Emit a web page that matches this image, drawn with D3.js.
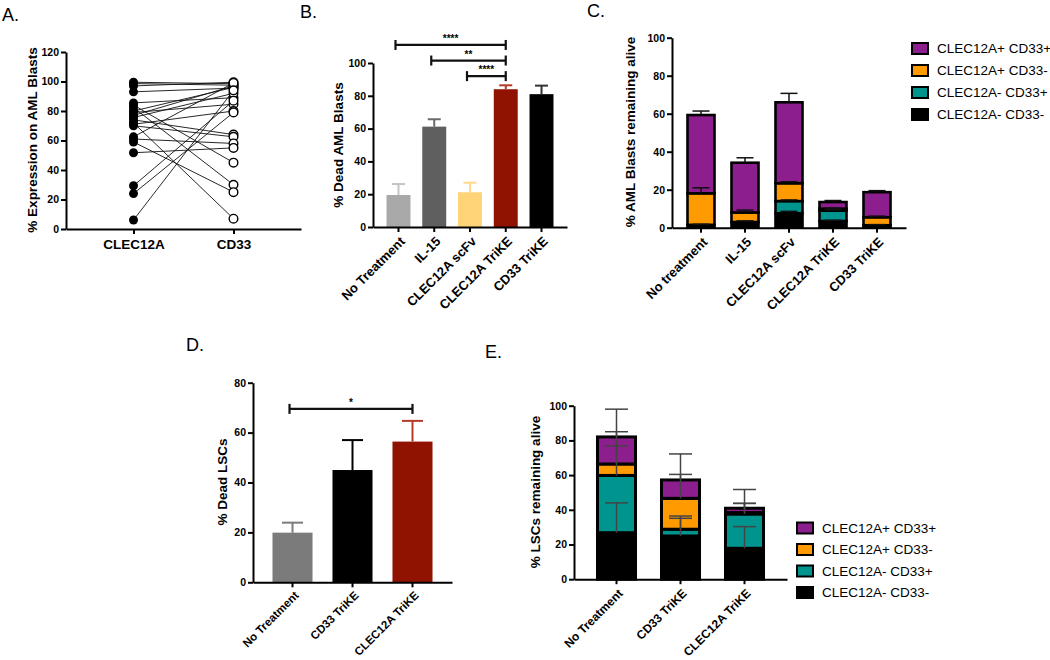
<!DOCTYPE html>
<html><head><meta charset="utf-8">
<script src="https://cdn.jsdelivr.net/npm/d3@7"></script>
<style>body{margin:0;background:#fff}svg{display:block;font-family:"Liberation Sans",Arial,sans-serif}</style>
</head><body><script>
// ---------- Panel A data ----------
const aCats = ["CLEC12A", "CD33"];
const aTicks = [0, 20, 40, 60, 80, 100, 120];
const clec12aExpr = [99.5, 98.6, 97, 93, 85.5, 84, 82.3, 80, 79, 77, 75.6, 74, 72, 71, 70, 62.5, 61, 59, 51.7, 29.3, 24, 6.1];
const cd33Expr    = [98.5, 97.5, 99.5, 95.5, 89, 45, 30, 96, 84.6, 97, 92, 64, 7, 80, 62.5, 99, 58, 25, 55, 87, 79, 94];

// ---------- Panel B data ----------
const bCats = ["No Treatment", "IL-15", "CLEC12A scFv", "CLEC12A TriKE", "CD33 TriKE"];
const bMean = [19.5, 61.2, 21.2, 84, 81];
const bErrTop = [26.2, 65.7, 27, 86.4, 86.2];
const bColors = ["#a9a9a9", "#5f5f5f", "#ffd479", "#8f1300", "#000000"];
const bErrColors = ["#c4c4c4", "#6a6a6a", "#ffd98a", "#b43a2a", "#333333"];
const bTicks = [0, 20, 40, 60, 80, 100];
const bSigFrom = ["No Treatment", "IL-15", "CLEC12A scFv"];
const bSigTo = ["CLEC12A TriKE", "CLEC12A TriKE", "CLEC12A TriKE"];
const bSigLevel = [111, 101.5, 92];
const bSigLabel = ["****", "**", "****"];

// ---------- Panel C data ----------
const cCats = ["No treatment", "IL-15", "CLEC12A scFv", "CLEC12A TriKE", "CD33 TriKE"];
const cNegNeg = [1.5, 3, 7.6, 3.5, 1.3];      // CLEC12A- CD33-
const cNegPos = [0, 0, 6.4, 5.5, 0];          // CLEC12A- CD33+
const cPosNeg = [16.6, 5, 9.4, 1, 4.2];       // CLEC12A+ CD33-
const cPosPos = [41.2, 26.2, 42.6, 3.5, 13.2];// CLEC12A+ CD33+
const cErrNegNeg = [0.3, 0.6, 1, 0.4, 0.3];
const cErrNegPos = [0, 0, 0.6, 0.4, 0];
const cErrPosNeg = [2.9, 1.3, 0.8, 0.3, 0.6];
const cErrPosPos = [2.1, 2.6, 4.7, 0.8, 0.8];
const cTicks = [0, 20, 40, 60, 80, 100];

// ---------- Panel D data ----------
const dCats = ["No Treatment", "CD33 TriKE", "CLEC12A TriKE"];
const dMean = [19.9, 45, 56.4];
const dErrTop = [23.9, 57, 64.7];
const dColors = ["#7b7b7b", "#000000", "#8f1300"];
const dErrColors = ["#7b7b7b", "#000000", "#b43a2a"];
const dTicks = [0, 20, 40, 60, 80];
const dSigFrom = ["No Treatment"], dSigTo = ["CLEC12A TriKE"], dSigLevel = [69.5], dSigLabel = ["*"];

// ---------- Panel E data ----------
const eCats = ["No Treatment", "CD33 TriKE", "CLEC12A TriKE"];
const eNegNeg = [26.8, 24.9, 17.8];
const eNegPos = [33, 3.9, 19.8];
const ePosNeg = [6.6, 17.8, 0.8];
const ePosPos = [15.6, 10.6, 2.5];
const eErrNegNeg = [17.2, 10.2, 12.5];
const eErrNegPos = [17, 7.6, 6.1];
const eErrPosNeg = [18.6, 13.8, 5.3];
const eErrPosPos = [16, 15, 10.8];
const eTicks = [0, 20, 40, 60, 80, 100];

const legendLabels = ["CLEC12A+ CD33+", "CLEC12A+ CD33-", "CLEC12A- CD33+", "CLEC12A- CD33-"];
const keys = ["negneg", "negpos", "posneg", "pospos"];
const segColors = {pospos: "#8c1e8e", posneg: "#ff9a00", negpos: "#00948f", negneg: "#000000"};
const legendKeys = ["pospos", "posneg", "negpos", "negneg"];

const FONT = '"Liberation Sans", Arial, sans-serif';
const svg = d3.select("body").append("svg").attr("width", 1050).attr("height", 660);

function styleAxis(g, fs) {
  g.attr("font-family", FONT);
  g.select(".domain").attr("stroke", "#000").attr("stroke-width", 2);
  g.selectAll(".tick line").attr("stroke", "#000").attr("stroke-width", 2);
  g.selectAll(".tick text").attr("font-size", fs).attr("font-weight", "bold").attr("fill", "#000");
}
function yAxis(scale, ticks, x) {
  const g = svg.append("g").attr("transform", `translate(${x},0)`)
    .call(d3.axisLeft(scale).tickValues(ticks).tickSize(5).tickSizeOuter(0).tickPadding(2));
  styleAxis(g, 10.5);
  return g;
}
function xAxis(scale, y, rotate, fs, tx, ty) {
  const g = svg.append("g").attr("transform", `translate(0,${y})`)
    .call(d3.axisBottom(scale).tickSize(5).tickSizeOuter(0));
  styleAxis(g, fs);
  if (rotate) {
    g.selectAll(".tick text").attr("x", 0).attr("y", 0).attr("dy", "0.35em")
      .attr("text-anchor", "end").attr("transform", `translate(${tx},${ty}) rotate(-45)`);
  }
  return g;
}
function yTitle(text, x, y) {
  svg.append("text").attr("transform", `translate(${x},${y}) rotate(-90)`)
    .attr("text-anchor", "middle").attr("dy", "0.35em").attr("font-family", FONT)
    .attr("font-weight", "bold").attr("font-size", 13.5).text(text);
}
function panelLabel(t, x, y) {
  svg.append("text").attr("x", x).attr("y", y).attr("font-family", FONT)
    .attr("font-size", 18).text(t);
}
function brackets(x, y, from, to, level, label) {
  from.forEach((f, i) => {
    const x1 = x(f) + x.bandwidth() / 2 - 3, x2 = x(to[i]) + x.bandwidth() / 2, yy = y(level[i]);
    const g = svg.append("g").attr("stroke", "#111").attr("stroke-width", 2.2);
    g.append("line").attr("x1", x1).attr("x2", x2).attr("y1", yy).attr("y2", yy);
    g.append("line").attr("x1", x1).attr("x2", x1).attr("y1", yy - 5).attr("y2", yy + 5);
    g.append("line").attr("x1", x2).attr("x2", x2).attr("y1", yy - 5).attr("y2", yy + 5);
    svg.append("text").attr("x", (x1 + x2) / 2).attr("y", yy - 3).attr("text-anchor", "middle")
      .attr("font-family", FONT).attr("font-size", 10).attr("font-weight", "bold").text(label[i]);
  });
}
function errBar(xc, yTop, yCap, w, color, sw) {
  const g = svg.append("g").attr("stroke", color).attr("stroke-width", sw);
  g.append("line").attr("x1", xc).attr("x2", xc).attr("y1", yTop).attr("y2", yCap);
  g.append("line").attr("x1", xc - w / 2).attr("x2", xc + w / 2).attr("y1", yCap).attr("y2", yCap);
}

// ================= Panel A =================
panelLabel("A.", 2, 21);
const xA = d3.scalePoint().domain(aCats).range([66, 301]).padding(0.675);
const yA = d3.scaleLinear().domain([0, 120]).range([229, 52]);
clec12aExpr.forEach((v, i) => {
  svg.append("line").attr("x1", xA("CLEC12A")).attr("y1", yA(v))
    .attr("x2", xA("CD33")).attr("y2", yA(cd33Expr[i])).attr("stroke", "#111").attr("stroke-width", 0.9);
});
svg.append("g").selectAll("circle").data(clec12aExpr).join("circle")
  .attr("cx", xA("CLEC12A")).attr("cy", d => yA(d)).attr("r", 4.5).attr("fill", "#000");
svg.append("g").selectAll("circle").data(cd33Expr).join("circle")
  .attr("cx", xA("CD33")).attr("cy", d => yA(d)).attr("r", 4.3).attr("fill", "#fff")
  .attr("stroke", "#000").attr("stroke-width", 1.4);
yAxis(yA, aTicks, 66);
{
  const g = svg.append("g").attr("transform", "translate(0,229)")
    .call(d3.axisBottom(xA).tickSize(5).tickSizeOuter(0).tickPadding(5));
  styleAxis(g, 13.5);
}
yTitle("% Expression on AML Blasts", 32, 140);

// ================= Panel B =================
panelLabel("B.", 300, 18);
const xB = d3.scaleBand().domain(bCats).range([373, 567]).paddingInner(0.33).paddingOuter(0.378);
const yB = d3.scaleLinear().domain([0, 100]).range([227, 63]);
bCats.forEach((c, i) => {
  svg.append("rect").attr("x", xB(c)).attr("y", yB(bMean[i])).attr("width", xB.bandwidth())
    .attr("height", yB(0) - yB(bMean[i])).attr("fill", bColors[i]);
  errBar(xB(c) + xB.bandwidth() / 2, yB(bMean[i]), yB(bErrTop[i]), 13, bErrColors[i], 2);
});
yAxis(yB, bTicks, 373);
xAxis(xB, 227, true, 13, 4, 12);
yTitle("% Dead AML Blasts", 338, 145);
brackets(xB, yB, bSigFrom, bSigTo, bSigLevel, bSigLabel);

// ================= stacked helper =================
function stacked(cats, layers, errs, x, y, sw, errW, errColor, errSw) {
  const rows = cats.map((c, i) => {
    const r = {cat: c};
    keys.forEach((k, j) => { r[k] = layers[j][i]; });
    return r;
  });
  const series = d3.stack().keys(keys)(rows);
  series.forEach(s => {
    s.forEach(d => {
      if (d[1] - d[0] <= 0) return;
      svg.append("rect").attr("x", x(d.data.cat)).attr("y", y(d[1])).attr("width", x.bandwidth())
        .attr("height", y(d[0]) - y(d[1])).attr("fill", segColors[s.key])
        .attr("stroke", "#000").attr("stroke-width", sw);
    });
  });
  series.forEach((s, j) => {
    s.forEach((d, i) => {
      const e = errs[j][i];
      if (e <= 0 || d[1] - d[0] <= 0) return;
      errBar(x(d.data.cat) + x.bandwidth() / 2, y(d[1]), y(d[1] + e), errW, errColor, errSw);
    });
  });
}
function legend(x0, y0, dy) {
  legendKeys.forEach((k, i) => {
    svg.append("rect").attr("x", x0).attr("y", y0 + i * dy - 5.5).attr("width", 16).attr("height", 11)
      .attr("fill", segColors[k]).attr("stroke", "#000").attr("stroke-width", 2);
    svg.append("text").attr("x", x0 + 25).attr("y", y0 + i * dy).attr("dy", "0.35em")
      .attr("font-family", FONT).attr("font-size", 13.5).text(legendLabels[i]);
  });
}

// ================= Panel C =================
panelLabel("C.", 587, 17);
const xC = d3.scaleBand().domain(cCats).range([672, 906]).paddingInner(0.386).paddingOuter(0.352);
const yC = d3.scaleLinear().domain([0, 100]).range([227.7, 37.7]);
stacked(cCats, [cNegNeg, cNegPos, cPosNeg, cPosPos], [cErrNegNeg, cErrNegPos, cErrPosNeg, cErrPosPos],
  xC, yC, 2.6, 17, "#111", 1.5);
yAxis(yC, cTicks, 672);
xAxis(xC, 227.7, true, 13, 4, 12);
yTitle("% AML Blasts remaining alive", 630, 132);
legend(912, 48.5, 22);

// ================= Panel D =================
panelLabel("D.", 186, 351);
const xD = d3.scaleBand().domain(dCats).range([253, 452]).paddingInner(0.333).paddingOuter(0.325);
const yD = d3.scaleLinear().domain([0, 80]).range([582.3, 382.7]);
dCats.forEach((c, i) => {
  svg.append("rect").attr("x", xD(c)).attr("y", yD(dMean[i])).attr("width", xD.bandwidth())
    .attr("height", yD(0) - yD(dMean[i])).attr("fill", dColors[i]);
  errBar(xD(c) + xD.bandwidth() / 2, yD(dMean[i]), yD(dErrTop[i]), 21, dErrColors[i], 2);
});
yAxis(yD, dTicks, 253);
xAxis(xD, 582.3, true, 11.5, 4, 11);
yTitle("% Dead LSCs", 222, 482);
brackets(xD, yD, dSigFrom, dSigTo, dSigLevel, dSigLabel);

// ================= Panel E =================
panelLabel("E.", 485, 358);
const xE = d3.scaleBand().domain(eCats).range([574, 787]).paddingInner(0.406).paddingOuter(0.367);
const yE = d3.scaleLinear().domain([0, 100]).range([579.2, 405.7]);
stacked(eCats, [eNegNeg, eNegPos, ePosNeg, ePosPos], [eErrNegNeg, eErrNegPos, eErrPosNeg, eErrPosPos],
  xE, yE, 3, 23, "#444", 1.5);
yAxis(yE, eTicks, 574);
xAxis(xE, 579.2, true, 12, 4, 12);
yTitle("% LSCs remaining alive", 535, 492);
legend(797, 528, 21.5);
</script></body></html>
